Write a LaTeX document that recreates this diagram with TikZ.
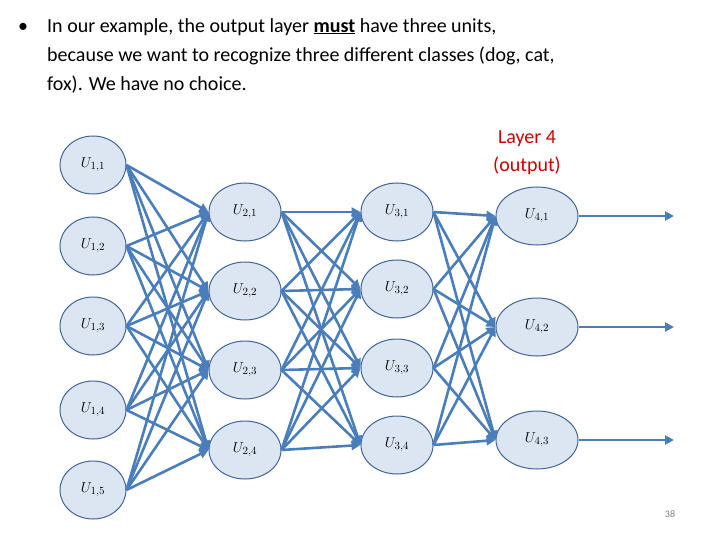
\documentclass[tikz,border=0pt]{standalone}
\usepackage{fontspec}
\setmainfont{Carlito}
\usetikzlibrary{arrows.meta,shapes.geometric}
\definecolor{eb}{RGB}{74,126,187}
\definecolor{nf}{RGB}{220,230,242}
\definecolor{nb}{RGB}{65,100,150}
\begin{document}
\begin{tikzpicture}[x=1pt,y=-1pt,
 unit/.style={ellipse,draw=nb,fill=nf,line width=1pt,minimum width=66pt,minimum height=58pt,inner sep=0pt,font=\fontsize{15}{17}\selectfont},
 conn/.style={draw=eb,line width=2.6pt,-{Triangle[length=9pt,width=9pt]}}]
\useasboundingbox (0,0) rectangle (720,540);
\node[anchor=north west,align=left,font=\fontsize{20}{29}\selectfont,inner sep=0pt] (txt) at (18,18)
 {\makebox[29pt][l]{•}In our example, the output layer \underline{\textbf{must}} have three units,\\
 \hspace*{29pt}because we want to recognize three different classes (dog, cat,\\
 \hspace*{29pt}fox). We have no choice.};
\node[red!80!black,align=center,font=\fontsize{20}{28}\selectfont] (lab) at (527,153) {Layer 4\\(output)};
\node[gray,font=\fontsize{10}{12}\selectfont] (pg) at (670,514) {38};
\foreach \i/\y in {1/165,2/246,3/326,4/410,5/490} \node[unit] (a\i) at (93,\y) {$U_{1,\i}$};
\foreach \i/\y in {1/212,2/291,3/370,4/450} \node[unit,minimum width=72pt] (b\i) at (245,\y) {$U_{2,\i}$};
\foreach \i/\y in {1/212,2/289,3/368,4/445} \node[unit,minimum width=72pt] (c\i) at (397,\y) {$U_{3,\i}$};
\foreach \i/\y in {1/216,2/327,3/440} \node[unit,minimum width=82pt] (d\i) at (537,\y) {$U_{4,\i}$};
\foreach \i in {1,...,5}{\foreach \j in {1,...,4}{\draw[conn] (a\i.east) -- (b\j.west);}}
\foreach \i in {1,...,4}{\foreach \j in {1,...,4}{\draw[conn] (b\i.east) -- (c\j.west);}}
\foreach \i in {1,...,4}{\foreach \j in {1,...,3}{\draw[conn] (c\i.east) -- (d\j.west);}}
\foreach \j in {1,2,3}{\coordinate (o\j) at (674,0 |- d\j); \draw[conn] (d\j.east) -- (o\j);}
\end{tikzpicture}
\end{document}
